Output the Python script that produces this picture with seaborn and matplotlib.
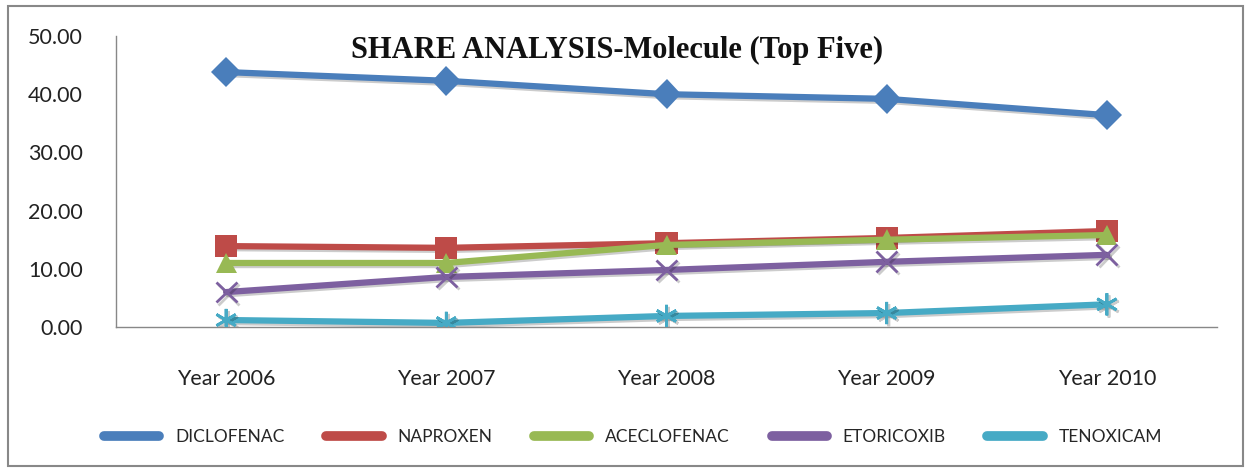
import matplotlib
matplotlib.use("Agg")
import matplotlib.pyplot as plt
import matplotlib.patheffects as pe
from matplotlib.patches import Rectangle
from matplotlib.lines import Line2D
import seaborn as sns
import pandas as pd

years = ["Year 2006", "Year 2007", "Year 2008", "Year 2009", "Year 2010"]
diclofenac = [43.8, 42.3, 40.0, 39.2, 36.4]
naproxen = [13.9, 13.6, 14.4, 15.3, 16.5]
aceclofenac = [11.0, 11.0, 14.1, 15.0, 15.8]
etoricoxib = [6.0, 8.6, 9.8, 11.2, 12.4]
tenoxicam = [1.2, 0.7, 1.9, 2.4, 3.9]
series_names = ["DICLOFENAC", "NAPROXEN", "ACECLOFENAC", "ETORICOXIB", "TENOXICAM"]
y_ticks = [0, 10, 20, 30, 40, 50]

values = [diclofenac, naproxen, aceclofenac, etoricoxib, tenoxicam]
rows = []
for name, vals in zip(series_names, values):
    for i, (yr, v) in enumerate(zip(years, vals)):
        rows.append({"pos": i, "year": yr, "molecule": name, "share": v})
df = pd.DataFrame(rows)

colors = {"DICLOFENAC": "#4A7EBB", "NAPROXEN": "#BE4B48", "ACECLOFENAC": "#98B954",
          "ETORICOXIB": "#7D60A0", "TENOXICAM": "#46AAC5"}
markers = {"DICLOFENAC": "D", "NAPROXEN": "s", "ACECLOFENAC": "^",
           "ETORICOXIB": "x", "TENOXICAM": (6, 2, 0)}
msize = {"DICLOFENAC": 15, "NAPROXEN": 16, "ACECLOFENAC": 15,
         "ETORICOXIB": 15, "TENOXICAM": 16}

sns.set_theme(style="white")
plt.rcParams["font.family"] = ["Lato", "DejaVu Sans"]

fig = plt.figure(figsize=(12.51, 4.72), dpi=100)
ax = fig.add_axes([116/1251, 1-327/472, (1217-116)/1251, (327-36)/472])

shadow = [pe.SimpleLineShadow(offset=(1.5, -1.5), alpha=0.2, shadow_color="black"), pe.Normal()]
for name in series_names:
    sub = df[df["molecule"] == name]
    sns.lineplot(data=sub, x="pos", y="share", ax=ax, color=colors[name], linewidth=4.5,
                 marker=markers[name], markersize=msize[name],
                 markeredgewidth=2 if name in ("ETORICOXIB", "TENOXICAM") else 0,
                 markeredgecolor=colors[name], markerfacecolor=colors[name],
                 legend=False, path_effects=shadow, zorder=3)

ax.set_xlim(-0.5, 4.5)
ax.set_ylim(0, 50)
ax.set_yticks(y_ticks)
ax.set_yticklabels([f"{t:.2f}" for t in y_ticks], fontsize=15.5, color="#222222")
ax.set_xticks(range(len(years)))
ax.set_xticklabels(years, fontsize=15.5, color="#222222")
ax.tick_params(axis="y", length=0, pad=24)
ax.tick_params(axis="x", length=0, pad=30)
ax.set_xlabel("")
ax.set_ylabel("")
for s in ["top", "right"]:
    ax.spines[s].set_visible(False)
for s in ["left", "bottom"]:
    ax.spines[s].set_color("#888888")
    ax.spines[s].set_linewidth(1)
ax.grid(False)

fig.text(617/1251, 1-50/472, "SHARE ANALYSIS-Molecule (Top Five)", ha="center", va="center",
         fontsize=22, fontweight="bold", family="Liberation Serif", color="#111111")

handles = [Line2D([0], [0], color=colors[n], linewidth=7, solid_capstyle="round") for n in series_names]
fig.legend(handles, series_names, loc="center", bbox_to_anchor=(633/1251, 1-437/472), ncol=5,
           frameon=False, fontsize=12.5, handlelength=3.2, columnspacing=2.4, handletextpad=0.9)

fig.patches.append(Rectangle((8/1251, 1-466/472), (1243-8)/1251, (466-6)/472, transform=fig.transFigure,
                             fill=False, edgecolor="#888888", linewidth=1.5))

fig.savefig("out.png", dpi=100)
